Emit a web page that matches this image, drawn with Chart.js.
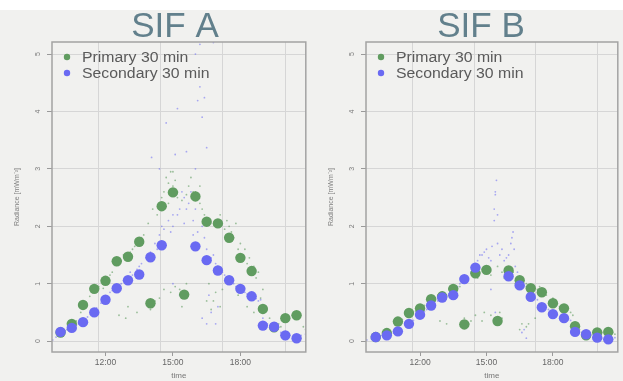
<!DOCTYPE html>
<html><head><meta charset="utf-8">
<script src="https://cdn.jsdelivr.net/npm/chart.js@4"></script>
<style>
html,body{margin:0;padding:0;background:#f1f1ef;width:623px;height:381px;overflow:hidden;position:relative}
#strip{position:absolute;left:0;top:0;width:623px;height:10px;background:#fff}
canvas{position:absolute;top:0}
</style></head><body>
<div id="strip"></div>
<canvas id="cA" width="311" height="381" style="left:0;width:311px;height:381px"></canvas>
<canvas id="cB" width="312" height="381" style="left:311px;width:312px;height:381px"></canvas>
<script>
// ---- data ----
const halfHours = [10,10.5,11,11.5,12,12.5,13,13.5,14,14.5,15,15.5,16,16.5,17,17.5,18,18.5,19,19.5,20,20.5];
const primaryA   = [0.15,0.30,0.63,0.91,1.05,1.39,1.47,1.73,0.66,2.35,2.59,0.81,2.52,2.08,2.05,1.80,1.45,1.22,0.56,0.24,0.40,0.45];
const secondaryA = [0.16,0.23,0.33,0.50,0.72,0.92,1.06,1.16,1.46,1.67,null,null,1.65,1.41,1.23,1.06,0.91,0.78,0.27,0.25,0.10,0.05];
const primaryB   = [0.07,0.14,0.34,0.49,0.57,0.73,0.78,0.91,0.29,1.18,1.24,0.35,1.23,1.06,0.92,0.85,0.66,0.57,0.26,0.10,0.15,0.16];
const secondaryB = [0.07,0.10,0.17,0.30,0.46,0.62,0.76,0.80,1.08,1.28,null,null,1.13,0.97,0.77,0.59,0.47,0.40,0.16,0.12,0.06,0.03];

const rawPrimaryA = [[10.3,0.2],[10.5,0.28],[10.7,0.35],[10.9,0.5],[11.1,0.65],[11.3,0.78],[11.5,0.88],[11.7,0.95],[11.9,1.0],[12.1,1.08],[12.3,1.2],[12.5,1.32],[12.6,0.45],[12.7,1.4],[12.9,1.45],[13.0,0.6],[13.1,1.55],[13.3,1.65],[13.5,1.72],[13.7,1.85],[13.9,2.05],[14.0,0.55],[14.1,2.3],[14.2,0.7],[14.4,2.4],[14.6,2.6],[14.8,2.75],[14.9,2.95],[15.0,2.7],[15.2,2.5],[15.3,0.9],[15.5,0.75],[15.6,1.0],[15.7,2.7],[15.9,2.6],[16.1,2.5],[16.3,2.3],[16.5,0.7],[16.7,0.55],[16.9,0.85],[17.0,2.1],[17.3,1.95],[17.5,2.0],[17.7,1.8],[17.9,1.6],[18.1,1.5],[18.3,1.35],[18.5,1.25],[18.7,1.1],[18.9,0.75],[19.1,0.55],[19.3,0.4],[19.5,0.3],[19.7,0.3],[19.9,0.35],[20.1,0.4],[20.3,0.45],[20.6,0.4],[20.8,0.25],
  [14.3,2.2],[14.5,2.5],[14.7,2.85],[14.8,2.4],[15.0,2.95],[15.1,2.8],[15.2,2.6],[15.4,2.45],[15.6,2.55],[15.8,2.85],[16.0,2.6],[16.2,2.4],[16.4,2.2],[16.2,2.7],[15.4,0.6],[15.1,0.95],[14.9,0.85],[14.6,0.9],[16.6,1.0],[16.8,0.7],[17.1,0.6],[17.2,0.9],[17.1,2.2],[17.4,2.1],[17.6,1.9],[17.8,2.05],[18.0,1.7],[18.2,1.6],[18.4,1.45],[18.6,1.3],[18.8,1.2],[19.0,0.9],[13.6,1.8],[13.2,1.6],[12.8,1.5],[12.2,1.15],[11.9,0.92],[12.9,0.4],[13.4,0.5],[14.4,0.75],[18.3,0.6],[18.6,0.5],[17.9,0.8],[19.8,0.25],[20.0,0.35],[20.4,0.5],[20.9,0.2]];
const rawSecondaryA = [[9.65,0.02],[9.8,0.07],[10.0,0.12],[10.2,0.18],[10.4,0.22],[10.6,0.26],[10.8,0.3],[11.0,0.34],[11.2,0.42],[11.4,0.5],[11.6,0.58],[11.8,0.66],[12.0,0.75],[12.2,0.85],[12.4,0.9],[12.6,0.98],[12.8,1.05],[13.0,1.1],[13.2,1.15],[13.4,1.25],[13.6,1.35],[13.8,1.45],[14.0,1.55],[14.05,3.2],[14.2,1.7],[14.4,1.85],[14.6,1.95],[14.7,3.8],[14.8,2.1],[15.0,2.2],[15.1,3.25],[15.2,4.05],[15.3,2.3],[15.5,2.5],[15.7,2.4],[15.9,2.1],[16.0,5.0],[16.1,4.19],[16.1,1.9],[16.2,5.17],[16.2,4.43],[16.3,3.9],[16.3,0.4],[16.4,4.24],[16.5,3.37],[16.5,0.3],[16.6,0.8],[16.8,5.2],[16.8,1.5],[17.0,1.3],[17.2,1.2],[17.4,1.1],[17.6,1.0],[17.8,0.95],[18.0,0.9],[18.2,0.85],[18.4,0.8],[18.6,0.75],[18.8,0.7],[19.0,0.4],[19.2,0.3],[19.4,0.25],[19.6,0.2],[19.8,0.15],[20.0,0.12],[20.2,0.1],[20.4,0.08],[20.7,0.1],[20.9,0.12],
  [14.3,1.6],[14.5,2.0],[14.6,1.7],[14.9,1.9],[15.0,2.0],[15.2,2.2],[15.4,2.6],[15.5,2.05],[15.6,2.3],[15.8,2.6],[15.9,1.85],[16.0,2.3],[16.1,2.5],[16.3,2.0],[16.4,1.8],[16.5,1.6],[16.7,1.45],[16.9,1.35],[17.1,1.25],[17.3,1.15],[17.5,1.05],[17.7,1.0],[17.9,0.92],[18.1,0.88],[18.3,0.82],[18.5,0.78],[18.7,0.74],[18.9,0.72],[15.0,1.0],[15.3,0.8],[16.7,0.5],[16.9,0.3],[17.0,0.6],[13.5,1.3],[13.1,1.2],[12.7,1.0],[12.3,0.88],[11.9,0.7],[11.5,0.55],[11.1,0.38],[10.7,0.28],[10.3,0.2],[9.9,0.1],[14.4,3.0],[15.6,3.3],[16.0,3.0]];
const rawPrimaryB = [[10.3,0.1],[10.6,0.15],[10.9,0.28],[11.2,0.38],[11.5,0.45],[11.8,0.52],[12.1,0.6],[12.4,0.68],[12.7,0.75],[12.9,0.35],[13.0,0.85],[13.2,0.3],[13.3,0.9],[13.6,0.95],[13.9,0.35],[14.2,0.3],[14.5,0.45],[14.7,1.2],[14.9,0.5],[15.1,1.3],[15.4,0.4],[15.6,0.5],[15.8,1.1],[16.1,1.25],[16.4,1.1],[16.6,0.3],[16.8,0.25],[17.0,0.95],[17.3,0.9],[17.6,0.85],[17.9,0.7],[18.2,0.65],[18.5,0.6],[18.8,0.5],[19.0,0.3],[19.3,0.15],[19.6,0.12],[19.9,0.13],[20.2,0.15],[20.5,0.17],[20.8,0.12],
  [14.6,1.1],[14.8,1.25],[15.0,1.2],[15.2,1.15],[15.5,1.3],[15.7,1.2],[16.0,1.15],[16.2,1.2],[16.3,1.0],[16.6,1.05],[16.8,1.0],[17.1,0.85],[17.4,0.95],[17.7,0.8],[18.0,0.75],[18.3,0.6],[18.6,0.55],[18.9,0.45],[14.0,0.4],[14.3,0.35],[14.8,0.35],[15.2,0.45],[15.7,0.4],[16.5,0.2],[16.9,0.3],[17.2,0.4],[13.8,0.95],[12.8,0.8],[12.2,0.62],[11.6,0.48],[11.0,0.3],[19.2,0.2],[20.0,0.15],[20.7,0.15]];
const rawSecondaryB = [[9.6,0.02],[9.9,0.05],[10.2,0.08],[10.5,0.1],[10.8,0.14],[11.1,0.2],[11.4,0.27],[11.7,0.36],[12.0,0.45],[12.3,0.55],[12.6,0.65],[12.9,0.72],[13.2,0.8],[13.5,0.88],[13.8,1.0],[14.1,1.12],[14.4,1.25],[14.6,1.4],[14.8,1.5],[15.0,1.6],[15.2,1.4],[15.35,2.3],[15.4,2.55],[15.45,2.8],[15.5,1.7],[15.7,1.6],[15.9,1.45],[16.1,1.7],[16.2,1.9],[16.3,1.3],[16.5,1.1],[16.7,0.2],[16.9,0.9],[17.2,0.75],[17.5,0.65],[17.8,0.55],[18.1,0.48],[18.4,0.42],[18.7,0.38],[19.0,0.2],[19.3,0.12],[19.6,0.1],[19.9,0.07],[20.2,0.05],[20.5,0.04],[20.8,0.06],
  [14.3,1.2],[14.5,1.3],[14.7,1.5],[14.9,1.55],[15.1,1.45],[15.25,1.65],[15.35,2.1],[15.4,2.6],[15.5,2.2],[15.6,1.5],[15.8,1.4],[16.0,1.5],[16.15,1.8],[16.25,1.6],[16.4,1.2],[16.6,1.05],[16.8,0.95],[17.0,0.85],[17.3,0.72],[17.6,0.6],[17.9,0.52],[18.2,0.46],[18.5,0.42],[18.8,0.36],[15.2,0.9],[15.4,0.5],[16.6,0.15],[16.8,0.05],[13.7,0.95],[13.3,0.82],[12.8,0.7],[12.2,0.52],[11.6,0.33],[11.0,0.18],[10.4,0.09],[9.8,0.04]];

const xTickHours = [12,15,18];
const gridHours  = [11.67,14.44,17.22,20.0];
const yTickValues = [0,1,2,3,4,5];
const titles = ['SIF A','SIF B'];
const legendLabels = ['Primary 30 min','Secondary 30 min'];
const yTitle = 'Radiance [mWm\u207B\u00B2]';
const xTitle = 'time';

// ---- styles ----
const GREEN = 'rgb(96,156,96)';
const BLUE  = 'rgb(106,106,242)';
const GREEN_RAW = 'rgba(96,156,96,0.6)';
const BLUE_RAW  = 'rgba(106,106,242,0.55)';
const FAM = '"Liberation Sans", Arial, sans-serif';

function panelPlugin(cfg){
  return {
    id:'panel',
    afterDraw(chart){
      const ctx = chart.ctx, a = chart.chartArea, ys = chart.scales.y;
      ctx.save();
      ctx.strokeStyle = '#a3a3a3'; ctx.lineWidth = 1.5;
      ctx.strokeRect(a.left, a.top, a.right - a.left, a.bottom - a.top);
      ctx.fillStyle = '#7a7a7a';
      ctx.font = '7px ' + FAM;
      ctx.textAlign = 'center'; ctx.textBaseline = 'middle';
      ys.ticks.forEach(t => {
        const y = ys.getPixelForValue(t.value);
        ctx.save();
        ctx.translate(a.left - 14, y);
        ctx.rotate(-Math.PI/2);
        ctx.fillText(String(t.value), 0, 0);
        ctx.restore();
      });
      const items = [[legendLabels[0], GREEN],[legendLabels[1], BLUE]];
      items.forEach((it, i) => {
        const y = a.top + 15 + i*16;
        ctx.fillStyle = it[1];
        ctx.beginPath(); ctx.arc(a.left + 15, y, 3.2, 0, Math.PI*2); ctx.fill();
        ctx.save();
        ctx.translate(a.left + 30, y + 5);
        ctx.scale(1.13, 1);
        ctx.fillStyle = '#5a5a5a';
        ctx.font = '14px ' + FAM;
        ctx.textAlign = 'left'; ctx.textBaseline = 'alphabetic';
        ctx.fillText(it[0], 0, 0);
        ctx.restore();
      });
      ctx.fillStyle = '#62808c';
      ctx.font = '35px ' + FAM;
      ctx.textAlign = 'center'; ctx.textBaseline = 'alphabetic';
      ctx.fillText(cfg.title, cfg.titleX, 37);
      ctx.restore();
    }
  };
}

function makePanel(id, cfg){
  const toPts = (vals) => halfHours.map((t,i) => ({x:t, y:vals[i]}));
  const toRaw = (arr) => arr.map(p => ({x:p[0], y:p[1]}));
  new Chart(document.getElementById(id), {
    type:'scatter',
    data:{datasets:[
      {label:legendLabels[1], data:toPts(cfg.sec), pointRadius:5.2, backgroundColor:BLUE, borderWidth:0},
      {label:legendLabels[0], data:toPts(cfg.prim), pointRadius:5.2, backgroundColor:GREEN, borderWidth:0},
      {label:'raw secondary', data:toRaw(cfg.rawSec), pointRadius:0.9, backgroundColor:BLUE_RAW, borderWidth:0},
      {label:'raw primary', data:toRaw(cfg.rawPrim), pointRadius:0.9, backgroundColor:GREEN_RAW, borderWidth:0}
    ]},
    options:{
      responsive:false, animation:false, events:[],
      layout:{padding:{top:42, right:cfg.padRight, left:0, bottom:0}},
      plugins:{legend:{display:false}, tooltip:{enabled:false}},
      scales:{
        x:{type:'linear', position:'bottom', min:cfg.xmin, max:cfg.xmax,
          afterBuildTicks:s => { s.ticks = xTickHours.map(v => ({value:v})); },
          afterFit:s => { s.height = 29; },
          grid:{drawOnChartArea:false, drawTicks:true, tickLength:4, tickColor:'#9a9a9a'},
          border:{display:false},
          ticks:{callback:v => v + ':00', font:{size:8.5, family:FAM}, color:'#666', padding:2, maxRotation:0, autoSkip:false},
          title:{display:true, text:xTitle, font:{size:8, family:FAM}, color:'#777', padding:{top:0,bottom:0}}
        },
        xg:{type:'linear', position:'bottom', min:cfg.xmin, max:cfg.xmax,
          afterBuildTicks:s => { s.ticks = gridHours.map(v => ({value:v})); },
          afterFit:s => { s.height = 0; },
          ticks:{display:false},
          grid:{drawTicks:false, color:'#d6d6d6', borderDash:[1,2]},
          border:{display:false}
        },
        y:{type:'linear', min:-0.19, max:5.21,
          afterBuildTicks:s => { s.ticks = yTickValues.map(v => ({value:v})); },
          afterFit:s => { s.width = cfg.yw; },
          ticks:{display:false},
          grid:{color:'#d6d6d6', borderDash:[1,2], tickLength:5, tickColor:'#9a9a9a', tickBorderDash:[]},
          border:{display:false},
          title:{display:true, text:yTitle, font:{size:7, family:FAM}, color:'#808080', padding:{top:cfg.yTitlePad, bottom:0}}
        }
      }
    },
    plugins:[panelPlugin(cfg)]
  });
}

makePanel('cA', {prim:primaryA, sec:secondaryA, rawPrim:rawPrimaryA, rawSec:rawSecondaryA,
  xmin:9.62, xmax:20.91, padRight:3, yw:52, yTitlePad:12.5, title:titles[0], titleX:175});
makePanel('cB', {prim:primaryB, sec:secondaryB, rawPrim:rawPrimaryB, rawSec:rawSecondaryB,
  xmin:9.56, xmax:20.93, padRight:1, yw:55, yTitlePad:15.5, title:titles[1], titleX:170});
</script>
</body></html>
